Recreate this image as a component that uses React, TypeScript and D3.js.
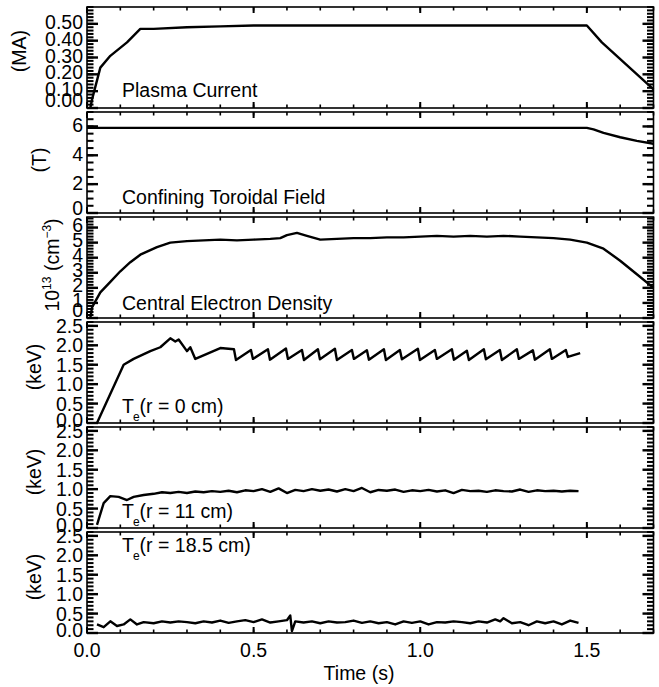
import React from "react";
import * as d3 from "d3";

const W = 659;
const H = 687;
const FONT = "'Liberation Sans', Arial, Helvetica, sans-serif";
const FS = 19.5;

// layout of the stacked panels
const X_LEFT = 87;
const X_RIGHT = 653.5;
const PANEL_TOP = 7;
const PANEL_H = 101;
const PANEL_STEP = 105;

// time axis
const timeDomain = [0, 1.7];
const timeMajor = [0, 0.5, 1.0, 1.5];
const timeLabels = ["0.0", "0.5", "1.0", "1.5"];

// Plasma current (MA)
const ipT = [0.01, 0.015, 0.04, 0.07, 0.12, 0.16, 0.2, 0.3, 0.4, 0.5, 0.6, 0.7, 0.8, 0.9, 1.0, 1.1, 1.2, 1.3, 1.4, 1.5, 1.545, 1.7];
const ipV = [0.0, 0.05, 0.24, 0.31, 0.39, 0.47, 0.47, 0.48, 0.485, 0.49, 0.49, 0.49, 0.49, 0.49, 0.49, 0.49, 0.49, 0.49, 0.49, 0.49, 0.39, 0.11];

// Toroidal field (T)
const btT = [0.0, 0.5, 1.0, 1.5, 1.52, 1.55, 1.6, 1.65, 1.7];
const btV = [5.9, 5.9, 5.9, 5.9, 5.8, 5.55, 5.25, 5.0, 4.8];

// Central electron density (1e13 cm^-3)
const neT = [0.01, 0.015, 0.04, 0.07, 0.1, 0.13, 0.16, 0.21, 0.25, 0.3, 0.35, 0.4, 0.45, 0.5, 0.55, 0.58, 0.6, 0.63, 0.66, 0.7, 0.75, 0.8, 0.85, 0.9, 0.95, 1.0, 1.05, 1.1, 1.15, 1.2, 1.25, 1.3, 1.35, 1.4, 1.45, 1.5, 1.55, 1.6, 1.65, 1.7];
const neV = [0.0, 0.7, 1.7, 2.4, 3.1, 3.7, 4.2, 4.7, 5.0, 5.1, 5.15, 5.2, 5.15, 5.2, 5.25, 5.3, 5.5, 5.65, 5.45, 5.2, 5.25, 5.3, 5.3, 5.35, 5.35, 5.4, 5.45, 5.4, 5.45, 5.4, 5.45, 5.4, 5.35, 5.3, 5.2, 5.0, 4.6, 3.8, 2.9, 2.0];

// Te at r = 0 cm (keV), sawteeth
const te0T = [0.03, 0.11, 0.14, 0.19, 0.22, 0.25, 0.265, 0.275, 0.3, 0.31, 0.325, 0.36, 0.4, 0.441, 0.447, 0.492, 0.498, 0.543, 0.549, 0.597, 0.603, 0.645, 0.651, 0.693, 0.699, 0.744, 0.75, 0.795, 0.801, 0.84, 0.846, 0.891, 0.897, 0.939, 0.945, 0.993, 0.999, 1.044, 1.05, 1.095, 1.101, 1.14, 1.146, 1.191, 1.197, 1.239, 1.245, 1.29, 1.296, 1.338, 1.344, 1.389, 1.395, 1.437, 1.443, 1.48];
const te0V = [0.0, 1.5, 1.65, 1.85, 1.95, 2.18, 2.1, 2.15, 1.85, 1.95, 1.65, 1.78, 1.93, 1.9, 1.62, 1.88, 1.65, 1.9, 1.63, 1.92, 1.65, 1.88, 1.62, 1.9, 1.64, 1.91, 1.62, 1.88, 1.65, 1.87, 1.63, 1.9, 1.62, 1.88, 1.64, 1.91, 1.62, 1.88, 1.65, 1.9, 1.63, 1.86, 1.62, 1.9, 1.64, 1.88, 1.62, 1.9, 1.65, 1.87, 1.63, 1.9, 1.65, 1.88, 1.7, 1.8];

// Te at r = 11 cm (keV)
const te11T = [0.03, 0.05, 0.07, 0.095, 0.12, 0.14, 0.17, 0.2, 0.225, 0.25, 0.275, 0.3, 0.325, 0.35, 0.375, 0.4, 0.425, 0.45, 0.475, 0.5, 0.525, 0.55, 0.575, 0.6, 0.625, 0.65, 0.675, 0.7, 0.725, 0.75, 0.775, 0.8, 0.825, 0.85, 0.875, 0.9, 0.925, 0.95, 0.975, 1.0, 1.025, 1.05, 1.075, 1.1, 1.125, 1.15, 1.175, 1.2, 1.225, 1.25, 1.275, 1.3, 1.325, 1.35, 1.375, 1.4, 1.425, 1.45, 1.475];
const te11V = [0.08, 0.64, 0.82, 0.8, 0.72, 0.8, 0.85, 0.88, 0.92, 0.9, 0.93, 0.9, 0.94, 0.92, 0.95, 0.93, 0.96, 0.92, 0.97, 0.95, 1.0, 0.93, 1.02, 0.9, 0.98, 0.95, 1.0, 0.96, 0.99, 0.94, 1.0, 0.95, 1.03, 0.92, 0.98, 0.96, 0.99, 0.93, 0.97, 0.95, 0.98, 0.94, 0.97, 0.9, 0.98, 0.95, 0.96, 0.93, 0.97, 0.95, 0.94, 0.99, 0.93, 0.97, 0.95, 0.96, 0.94, 0.96, 0.95];

// Te at r = 18.5 cm (keV)
const te18T = [0.03, 0.05, 0.07, 0.09, 0.11, 0.13, 0.15, 0.17, 0.2, 0.225, 0.25, 0.275, 0.3, 0.325, 0.35, 0.375, 0.4, 0.425, 0.45, 0.475, 0.5, 0.525, 0.55, 0.575, 0.6, 0.61, 0.615, 0.625, 0.65, 0.675, 0.7, 0.725, 0.75, 0.775, 0.8, 0.825, 0.85, 0.875, 0.9, 0.925, 0.95, 0.975, 1.0, 1.025, 1.05, 1.075, 1.1, 1.125, 1.15, 1.175, 1.2, 1.225, 1.24, 1.25, 1.275, 1.3, 1.325, 1.35, 1.375, 1.4, 1.425, 1.45, 1.475];
const te18V = [0.22, 0.15, 0.3, 0.18, 0.22, 0.35, 0.22, 0.28, 0.25, 0.3, 0.27, 0.3, 0.28, 0.25, 0.3, 0.27, 0.32, 0.26, 0.3, 0.33, 0.28, 0.35, 0.27, 0.3, 0.33, 0.45, 0.05, 0.3, 0.27, 0.3, 0.25, 0.3, 0.27, 0.28, 0.32, 0.26, 0.3, 0.25, 0.28, 0.22, 0.3, 0.26, 0.3, 0.22, 0.28, 0.27, 0.3, 0.28, 0.25, 0.3, 0.27, 0.35, 0.3, 0.38, 0.25, 0.28, 0.2, 0.3, 0.25, 0.3, 0.22, 0.32, 0.26];

const kevMajor = [0, 0.5, 1.0, 1.5, 2.0, 2.5];

const panels = [
  { t: ipT, v: ipV, domain: [0, 0.6], major: [0, 0.1, 0.2, 0.3, 0.4, 0.5], minor: 0.02, fmt: ".2f", shift: -2, bottomShift: -8,
    label: "Plasma Current", sub: null, tail: null, labelBase: 97, unit: "ma", unitX: 26, unitY: 51 },
  { t: btT, v: btV, domain: [0, 7], major: [0, 2, 4, 6], minor: 0.5, fmt: "d", shift: -1, bottomShift: -5,
    label: "Confining Toroidal Field", sub: null, tail: null, labelBase: 204, unit: "t", unitX: 46, unitY: 160 },
  { t: neT, v: neV, domain: [0, 6.7], major: [0, 1, 2, 3, 4, 5, 6], minor: 0.2, fmt: "d", shift: -3, bottomShift: -8,
    label: "Central Electron Density", sub: null, tail: null, labelBase: 310, unit: "ne", unitX: 59, unitY: 265 },
  { t: te0T, v: te0V, domain: [0, 2.6], major: kevMajor, minor: 0.1, fmt: ".1f", shift: 0, bottomShift: -3,
    label: "T", sub: "e", tail: "(r = 0 cm)", labelBase: 413, unit: "kev", unitX: 41, unitY: 367 },
  { t: te11T, v: te11V, domain: [0, 2.6], major: kevMajor, minor: 0.1, fmt: ".1f", shift: 0, bottomShift: -3,
    label: "T", sub: "e", tail: "(r = 11 cm)", labelBase: 518, unit: "kev", unitX: 41, unitY: 472 },
  { t: te18T, v: te18V, domain: [0, 2.6], major: kevMajor, minor: 0.1, fmt: ".1f", shift: 0, bottomShift: -3,
    label: "T", sub: "e", tail: "(r = 18.5 cm)", labelBase: 552, unit: "kev", unitX: 41, unitY: 577 },
];

const x = d3.scaleLinear().domain(timeDomain).range([X_LEFT, X_RIGHT]);

function UnitTitle({ kind, ux, uy }) {
  const common = {
    transform: `translate(${ux}, ${uy}) rotate(-90)`,
    textAnchor: "middle" as const,
    fontSize: FS,
    fill: "#000",
  };
  if (kind === "ma") return <text {...common}>(MA)</text>;
  if (kind === "t") return <text {...common}>(T)</text>;
  if (kind === "kev") return <text {...common}>(keV)</text>;
  return (
    <text {...common}>
      10
      <tspan fontSize={12} dy={-8}>13</tspan>
      <tspan dy={8}> (cm</tspan>
      <tspan fontSize={12} dy={-8}>−3</tspan>
      <tspan dy={8}>)</tspan>
    </text>
  );
}

function Panel({ cfg, index, last }) {
  const top = PANEL_TOP + index * PANEL_STEP;
  const bottom = top + PANEL_H;
  const y = d3.scaleLinear().domain(cfg.domain).range([bottom, top]);
  const pts: [number, number][] = cfg.t.map((t, i) => [t, cfg.v[i]]);
  const traceGen = d3
    .line<[number, number]>()
    .x((d) => x(d[0]))
    .y((d) => y(d[1]));

  const yMinor = d3.range(cfg.domain[0], cfg.domain[1] + 1e-9, cfg.minor);
  const xMinor = d3.range(0, 1.7 + 1e-9, 0.1);
  const fmt = cfg.fmt === "d" ? (v) => String(Math.round(v)) : d3.format(cfg.fmt);

  // ticks as filled rectangles, pointing inward on all four sides
  const ticks = [];
  yMinor.forEach((v, i) => {
    const yy = y(v) - 1;
    ticks.push(<rect key={"lm" + i} x={X_LEFT} y={yy} width={6.5} height={2} fill="#000" />);
    ticks.push(<rect key={"rm" + i} x={X_RIGHT - 6.5} y={yy} width={6.5} height={2} fill="#000" />);
  });
  cfg.major.forEach((v, i) => {
    const yy = y(v) - 1.2;
    ticks.push(<rect key={"lM" + i} x={X_LEFT} y={yy} width={11} height={2.4} fill="#000" />);
    ticks.push(<rect key={"rM" + i} x={X_RIGHT - 11} y={yy} width={11} height={2.4} fill="#000" />);
  });
  xMinor.forEach((t, i) => {
    const xx = x(t) - 0.8;
    ticks.push(<rect key={"bm" + i} x={xx} y={bottom - 3.5} width={1.6} height={3.5} fill="#000" />);
    ticks.push(<rect key={"tm" + i} x={xx} y={top} width={1.6} height={3.5} fill="#000" />);
  });
  timeMajor.forEach((t, i) => {
    const xx = x(t) - 1;
    ticks.push(<rect key={"bM" + i} x={xx} y={bottom - 6} width={2} height={6} fill="#000" />);
    ticks.push(<rect key={"tM" + i} x={xx} y={top} width={2} height={6} fill="#000" />);
  });

  return (
    <g>
      {ticks}

      {/* frame */}
      <rect x={X_LEFT} y={top} width={X_RIGHT - X_LEFT} height={PANEL_H} fill="none" stroke="#000" strokeWidth={1.6} />

      {/* trace */}
      <path d={traceGen(pts) || ""} fill="none" stroke="#000" strokeWidth={2.4} strokeLinejoin="round" />

      {/* y tick labels */}
      {cfg.major.map((v, i) => (
        <text
          key={"yl" + i}
          x={83}
          y={y(v) + 7 + (v === 0 ? cfg.bottomShift : cfg.shift)}
          textAnchor="end"
          fontSize={FS}
          fill="#000"
        >
          {fmt(v)}
        </text>
      ))}

      {/* panel label */}
      <text x={122} y={cfg.labelBase} fontSize={FS} fill="#000">
        {cfg.label}
        {cfg.sub && (
          <tspan fontSize={12} dx={-1} dy={8}>
            {cfg.sub}
          </tspan>
        )}
        {cfg.tail && <tspan dy={-8}>{cfg.tail}</tspan>}
      </text>

      <UnitTitle kind={cfg.unit} ux={cfg.unitX} uy={cfg.unitY} />

      {/* time axis labels on the last panel */}
      {last &&
        timeMajor.map((t, i) => (
          <text key={"xl" + i} x={x(t)} y={bottom + 24} textAnchor="middle" fontSize={FS} fill="#000">
            {timeLabels[i]}
          </text>
        ))}
    </g>
  );
}

export default function App() {
  const lastBottom = PANEL_TOP + (panels.length - 1) * PANEL_STEP + PANEL_H;
  return (
    <svg
      width={W}
      height={H}
      style={{ position: "absolute", left: 0, top: 0, background: "#fff" }}
      fontFamily={FONT}
    >
      <rect x={0} y={0} width={W} height={H} fill="#fff" />
      {panels.map((cfg, i) => (
        <Panel key={i} cfg={cfg} index={i} last={i === panels.length - 1} />
      ))}
      <text x={359} y={lastBottom + 47} textAnchor="middle" fontSize={FS} fill="#000">
        Time (s)
      </text>
    </svg>
  );
}
